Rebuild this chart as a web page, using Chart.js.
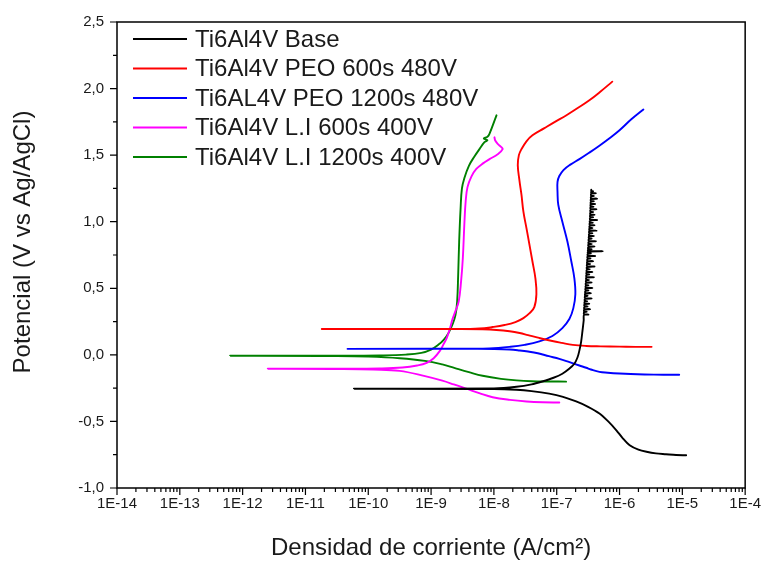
<!DOCTYPE html>
<html><head><meta charset="utf-8">
<script src="https://cdn.jsdelivr.net/npm/chart.js@4.4.1/dist/chart.umd.min.js"></script>
<style>html,body{margin:0;padding:0;background:#fff}</style>
</head><body>
<canvas id="c" width="768" height="564"></canvas>
<script>
// ---- data (current density A/cm², potential V vs Ag/AgCl) ----
const seriesNames = ['Ti6Al4V Base','Ti6Al4V PEO 600s 480V','Ti6AL4V PEO 1200s 480V','Ti6Al4V L.I 600s 400V','Ti6Al4V L.I 1200s 400V'];
const seriesColors = ['#000000','#ff0000','#0000ff','#ff00ff','#008000'];

const baseI = [1.15e-5,7.94e-6,5.50e-6,3.80e-6,2.69e-6,2.0e-6,1.45e-6,1.12e-6,8.91e-7,6.61e-7,4.79e-7,3.16e-7,2.04e-7,1.26e-7,7.59e-8,3.98e-8,2.29e-8,1.0e-8,5.89e-11,
  1.0e-8,2.29e-8,3.98e-8,5.89e-8,8.9e-8,1.23e-7,1.58e-7,1.91e-7,2.14e-7,2.29e-7,2.45e-7,2.57e-7,2.69e-7,
  2.72e-7,3.2e-7,2.72e-7, 2.73e-7,3.0e-7,2.73e-7, 2.75e-7,3.4e-7,2.75e-7, 2.76e-7,3.1e-7,2.76e-7, 2.78e-7,3.3e-7,2.78e-7, 2.8e-7,3.05e-7,2.8e-7,
  2.82e-7,3.6e-7,2.82e-7, 2.83e-7,3.1e-7,2.83e-7, 2.85e-7,3.5e-7,2.85e-7, 2.87e-7,3.2e-7,2.87e-7, 2.9e-7,3.7e-7,2.9e-7, 2.91e-7,3.2e-7,2.91e-7,
  2.93e-7,3.6e-7,2.93e-7, 2.95e-7,3.25e-7,2.95e-7, 2.97e-7,3.9e-7,2.97e-7, 2.98e-7,3.3e-7,2.98e-7, 3.0e-7,3.7e-7,3.0e-7, 3.02e-7,3.35e-7,3.02e-7,
  3.04e-7,4.0e-7,3.04e-7, 3.05e-7,3.4e-7,3.05e-7, 3.08e-7,3.8e-7,3.08e-7, 3.09e-7,3.45e-7,3.09e-7, 3.12e-7,4.1e-7,3.12e-7, 3.13e-7,3.5e-7,3.13e-7,
  3.15e-7,5.4e-7,3.15e-7, 3.17e-7,3.6e-7,3.17e-7, 3.2e-7,4.0e-7,3.2e-7, 3.21e-7,3.6e-7,3.21e-7, 3.24e-7,4.2e-7,3.24e-7, 3.25e-7,3.6e-7,3.25e-7,
  3.28e-7,3.9e-7,3.28e-7, 3.29e-7,3.7e-7,3.29e-7, 3.32e-7,4.3e-7,3.32e-7, 3.33e-7,3.7e-7,3.33e-7, 3.36e-7,4.0e-7,3.36e-7, 3.37e-7,3.75e-7,3.37e-7,
  3.4e-7,4.4e-7,3.4e-7, 3.41e-7,3.8e-7,3.41e-7, 3.43e-7,4.0e-7,3.43e-7, 3.44e-7,3.8e-7,3.44e-7, 3.46e-7,4.3e-7,3.46e-7, 3.47e-7,3.85e-7,3.47e-7,
  3.49e-7,4.1e-7,3.49e-7, 3.5e-7,3.9e-7,3.5e-7, 3.52e-7,4.4e-7,3.52e-7, 3.53e-7,3.9e-7,3.53e-7, 3.55e-7,4.2e-7,3.55e-7, 3.55e-7,3.8e-7,3.55e-7, 3.55e-7];
const baseE = [-0.754,-0.752,-0.746,-0.740,-0.728,-0.712,-0.679,-0.625,-0.567,-0.500,-0.440,-0.390,-0.350,-0.315,-0.291,-0.272,-0.262,-0.256,-0.254,
  -0.252,-0.240,-0.222,-0.200,-0.172,-0.142,-0.105,-0.067,-0.020,0.030,0.100,0.179,0.260,
  0.300,0.303,0.306, 0.320,0.323,0.326, 0.340,0.343,0.346, 0.360,0.363,0.366, 0.380,0.383,0.386, 0.400,0.403,0.406,
  0.420,0.423,0.426, 0.440,0.443,0.446, 0.460,0.463,0.466, 0.480,0.483,0.486, 0.500,0.503,0.506, 0.520,0.523,0.526,
  0.540,0.543,0.546, 0.560,0.563,0.566, 0.580,0.583,0.586, 0.600,0.603,0.606, 0.620,0.623,0.626, 0.640,0.643,0.646,
  0.660,0.663,0.666, 0.680,0.683,0.686, 0.700,0.703,0.706, 0.720,0.723,0.726, 0.740,0.743,0.746, 0.760,0.763,0.766,
  0.775,0.778,0.781, 0.790,0.793,0.796, 0.810,0.813,0.816, 0.830,0.833,0.836, 0.850,0.853,0.856, 0.870,0.873,0.876,
  0.890,0.893,0.896, 0.910,0.913,0.916, 0.930,0.933,0.936, 0.950,0.953,0.956, 0.970,0.973,0.976, 0.990,0.993,0.996,
  1.010,1.013,1.016, 1.030,1.033,1.036, 1.050,1.053,1.056, 1.070,1.073,1.076, 1.090,1.093,1.096, 1.110,1.113,1.116,
  1.130,1.133,1.136, 1.150,1.153,1.156, 1.170,1.173,1.176, 1.190,1.193,1.196, 1.210,1.213,1.216, 1.225,1.228,1.231, 1.240];

const peo600I = [3.24e-6,1.8e-6,1.0e-6,5.0e-7,2.95e-7,1.8e-7,1.2e-7,8.51e-8,5.25e-8,3.5e-8,2.57e-8,1.78e-8,1.1e-8,6.61e-9,3.0e-9,1.82e-11,
  2.8e-9,5.9e-9,9.5e-9,1.48e-8,2.2e-8,2.95e-8,3.7e-8,4.4e-8,4.75e-8,4.58e-8,4.11e-8,3.68e-8,3.31e-8,2.95e-8,2.75e-8,2.55e-8,2.40e-8,2.5e-8,2.75e-8,3.30e-8,4.11e-8,6.37e-8,9.52e-8,1.43e-7,2.13e-7,3.31e-7,4.94e-7,7.67e-7];
const peo600E = [0.060,0.060,0.062,0.064,0.067,0.075,0.090,0.104,0.127,0.148,0.164,0.177,0.187,0.192,0.194,0.194,
  0.194,0.198,0.209,0.224,0.246,0.276,0.313,0.358,0.455,0.575,0.701,0.828,0.948,1.075,1.201,1.310,1.425,1.500,1.545,1.604,1.649,1.703,1.752,1.800,1.852,1.912,1.976,2.052];

const peo1200I = [8.91e-6,5.0e-6,2.5e-6,1.5e-6,1.0e-6,6.5e-7,4.79e-7,3.5e-7,2.95e-7,2.29e-7,1.6e-7,1.10e-7,7.5e-8,5.0e-8,3.5e-8,2.57e-8,1.78e-8,1.0e-8,5.0e-9,4.68e-11,
  4.0e-9,8.5e-9,1.77e-8,3.08e-8,5.3e-8,8.55e-8,1.23e-7,1.59e-7,1.84e-7,1.98e-7,1.91e-7,1.71e-7,1.48e-7,1.23e-7,1.06e-7,1.03e-7,1.03e-7,1.10e-7,1.28e-7,1.65e-7,2.30e-7,3.31e-7,4.78e-7,6.93e-7,1.0e-6,1.54e-6,2.40e-6];
const peo1200E = [-0.149,-0.149,-0.147,-0.144,-0.140,-0.134,-0.128,-0.110,-0.097,-0.080,-0.055,-0.030,-0.010,0.012,0.025,0.033,0.040,0.044,0.045,0.045,
  0.046,0.048,0.060,0.075,0.101,0.142,0.201,0.269,0.351,0.455,0.575,0.701,0.851,1.000,1.127,1.224,1.299,1.343,1.388,1.429,1.470,1.519,1.571,1.627,1.687,1.769,1.843];

const li600I = [1.10e-7,6.0e-8,3.31e-8,1.8e-8,9.55e-9,6.0e-9,3.63e-9,2.3e-9,1.51e-9,8.0e-10,3.16e-10,1.2e-10,4.0e-11,2.51e-12,
  4.0e-11,1.5e-10,3.5e-10,6.0e-10,8.51e-10,1.1e-9,1.38e-9,1.6e-9,1.78e-9,2.0e-9,2.2e-9,2.45e-9,2.75e-9,3.0e-9,3.2e-9,3.4e-9,3.55e-9,3.8e-9,4.4e-9,5.25e-9,6.8e-9,8.51e-9,1.15e-8,1.38e-8,1.30e-8,1.15e-8,1.05e-8,1.02e-8];
const li600E = [-0.358,-0.356,-0.350,-0.338,-0.318,-0.290,-0.254,-0.222,-0.194,-0.160,-0.120,-0.110,-0.106,-0.104,
  -0.104,-0.102,-0.095,-0.080,-0.060,-0.025,0.030,0.085,0.127,0.200,0.270,0.330,0.400,0.550,0.724,1.000,1.150,1.260,1.340,1.396,1.440,1.470,1.507,1.545,1.562,1.585,1.610,1.634];

const li1200I = [1.41e-7,8.0e-8,4.0e-8,2.29e-8,1.3e-8,6.61e-9,4.0e-9,2.4e-9,1.51e-9,8.0e-10,3.16e-10,1.0e-10,3.0e-11,6.31e-13,
  3.0e-11,1.5e-10,4.0e-10,7.0e-10,1.0e-9,1.3e-9,1.6e-9,1.9e-9,2.2e-9,2.45e-9,2.6e-9,2.7e-9,2.8e-9,2.95e-9,3.1e-9,3.4e-9,4.0e-9,4.9e-9,5.89e-9,7.08e-9,7.9e-9,6.9e-9,7.9e-9,8.5e-9,1.10e-8];
const li1200E = [-0.201,-0.200,-0.198,-0.192,-0.180,-0.157,-0.130,-0.100,-0.072,-0.045,-0.025,-0.013,-0.009,-0.007,
  -0.006,-0.004,0.002,0.015,0.040,0.075,0.115,0.165,0.230,0.300,0.400,0.600,0.851,1.100,1.250,1.330,1.420,1.490,1.545,1.597,1.612,1.625,1.638,1.660,1.799];

const xTickVals = [1e-14,1e-13,1e-12,1e-11,1e-10,1e-9,1e-8,1e-7,1e-6,1e-5,1e-4];
const xTickLabels = ['1E-14','1E-13','1E-12','1E-11','1E-10','1E-9','1E-8','1E-7','1E-6','1E-5','1E-4'];
const yTickVals = [-1,-0.5,0,0.5,1,1.5,2,2.5];
const yTickLabels = ['-1,0','-0,5','0,0','0,5','1,0','1,5','2,0','2,5'];
const xTitle = 'Densidad de corriente (A/cm²)';
const yTitle = 'Potencial (V vs Ag/AgCl)';

// ---- build ----
const seriesI = [baseI, peo600I, peo1200I, li600I, li1200I];
const seriesE = [baseE, peo600E, peo1200E, li600E, li1200E];
const datasets = seriesNames.map((n, k) => ({
  label: n,
  data: seriesI[k].map((v, j) => ({x: v, y: seriesE[k][j]})),
  showLine: true, borderColor: seriesColors[k], backgroundColor: seriesColors[k],
  borderWidth: 1.9, pointRadius: 0, tension: k === 0 ? 0.3 : 0.4, fill: false,
  borderJoinStyle: 'round', borderCapStyle: 'round'
}));

const FONT = "'Liberation Sans', Arial, sans-serif";
const TXT = '#1a1a1a';

const framePlugin = {
  id: 'frame',
  afterDraw(chart) {
    const {ctx, chartArea: a, scales} = chart;
    ctx.save();
    ctx.strokeStyle = '#000'; ctx.lineWidth = 1.5;
    ctx.strokeRect(a.left, a.top, a.right - a.left, a.bottom - a.top);
    ctx.lineWidth = 1.2;
    ctx.beginPath();
    const ys = scales.y;
    for (let i = 0; i <= 14; i++) {
      const p = ys.getPixelForValue(-1 + i * 0.25);
      const len = (i % 2 === 0) ? 7 : 4;
      ctx.moveTo(a.left, p); ctx.lineTo(a.left - len, p);
    }
    const xs = scales.x;
    for (let d = -14; d <= -4; d++) {
      for (let k = 1; k <= 9; k++) {
        if (d === -4 && k > 1) break;
        const p = xs.getPixelForValue(k * Math.pow(10, d));
        const len = k === 1 ? 7 : 4;
        ctx.moveTo(p, a.bottom); ctx.lineTo(p, a.bottom + len);
      }
    }
    ctx.stroke();
    // y-axis title
    ctx.fillStyle = TXT;
    ctx.font = '24px ' + FONT;
    ctx.textAlign = 'center'; ctx.textBaseline = 'middle';
    ctx.save();
    ctx.translate(23, 242); ctx.rotate(-Math.PI / 2);
    ctx.fillText(yTitle, 0, 0);
    ctx.restore();
    // legend
    ctx.textAlign = 'left';
    ctx.font = '24px ' + FONT;
    chart.data.datasets.forEach((ds, i) => {
      const y = 39 + i * 29.5;
      ctx.strokeStyle = ds.borderColor; ctx.lineWidth = 2;
      ctx.beginPath(); ctx.moveTo(133, y); ctx.lineTo(187, y); ctx.stroke();
      ctx.fillText(ds.label, 195, y + 1);
    });
    ctx.restore();
  }
};

new Chart(document.getElementById('c'), {
  type: 'scatter',
  data: {datasets},
  options: {
    responsive: false, animation: false,
    layout: {padding: {top: 19, right: 22, left: 0, bottom: 0}},
    plugins: {legend: {display: false}, tooltip: {enabled: false}},
    scales: {
      x: {
        type: 'logarithmic', min: 1e-14, max: 1e-4,
        grid: {display: false, drawTicks: false}, border: {display: false},
        afterBuildTicks: s => { s.ticks = xTickVals.map(v => ({value: v})); },
        afterFit: s => { s.height = 76; },
        ticks: {autoSkip: false, maxRotation: 0, padding: 7, color: TXT, font: {family: FONT, size: 15},
          callback: (v, i) => xTickLabels[i]},
        title: {display: true, text: xTitle, color: TXT, font: {family: FONT, size: 24}, padding: {top: 0, bottom: 1}}
      },
      y: {
        min: -1, max: 2.5,
        grid: {display: false, drawTicks: false}, border: {display: false},
        afterBuildTicks: s => { s.ticks = yTickVals.map(v => ({value: v})); },
        afterFit: s => { s.width = 117; },
        ticks: {padding: 13, color: TXT, font: {family: FONT, size: 15},
          callback: (v, i) => yTickLabels[i]},
        title: {display: false}
      }
    }
  },
  plugins: [framePlugin]
});
</script>
</body></html>
